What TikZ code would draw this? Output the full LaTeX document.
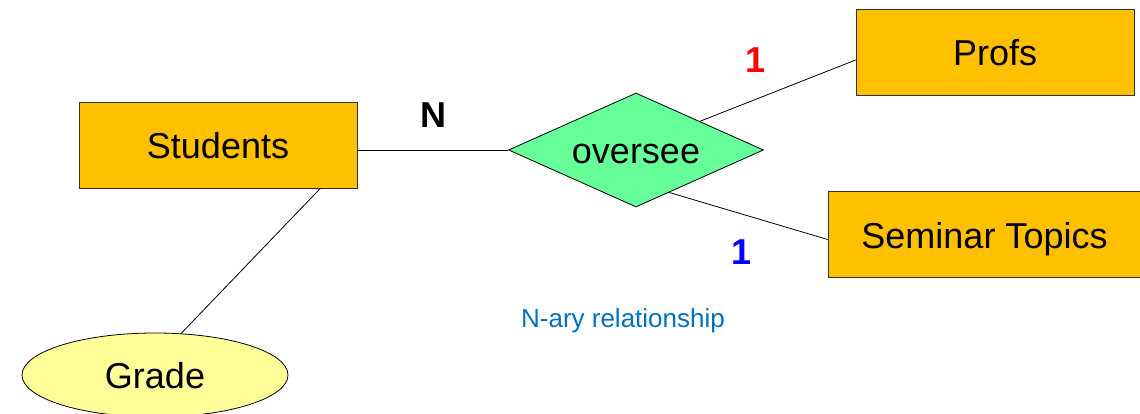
\documentclass[tikz,border=0pt]{standalone}
\usepackage{fontspec}
\setmainfont{Liberation Sans}
\usetikzlibrary{shapes.geometric,calc}
\definecolor{entfill}{HTML}{FFC000}
\definecolor{relfill}{HTML}{66FF99}
\definecolor{attfill}{HTML}{FFFF99}
\definecolor{notecol}{HTML}{0070C0}
\tikzset{
  label text/.style={font=\fontsize{36}{40}\selectfont, text height=34pt, text depth=7pt},
  entity/.style={label text, draw=black!80, line width=0.8pt, fill=entfill, minimum height=86pt, inner sep=0pt},
  relation/.style={label text, draw=black, line width=0.8pt, fill=relfill, diamond, aspect=2.24, inner sep=0pt,
                   minimum width=255pt, minimum height=114pt},
  attribute/.style={label text, draw=black, line width=0.8pt, fill=attfill, ellipse, inner sep=0pt,
                    minimum width=266pt, minimum height=84pt},
  link/.style={draw=black, line width=0.8pt},
  card/.style={font=\fontsize{36}{40}\selectfont\bfseries, inner sep=0pt},
  note/.style={font=\fontsize{26}{30}\selectfont, text=notecol, inner sep=0pt}
}
\begin{document}
\begin{tikzpicture}[x=1pt,y=-1pt]
  \useasboundingbox (0,0) rectangle (1140,414);

  % entities
  \node[entity, minimum width=278pt] (students) at (218,145) {Students};
  \node[entity, minimum width=278pt] (profs) at (995,52) {Profs};
  \node[entity, minimum width=313pt] (topics) at (984.5,234.5) {Seminar Topics};

  % relationship and attribute
  \node[relation] (oversee) at (636,150) {oversee};
  \node[attribute] (grade) at (155,375) {Grade};

  % connectors
  \draw[link] ([yshift=-5pt]students.east) -- (oversee.west);
  \draw[link] (oversee.north east) -- ([yshift=-8pt]profs.west);
  \draw[link] ($(oversee.south)!0.26!(oversee.east)$) -- ([yshift=-5pt]topics.west);
  \draw[link] ($(students.south west)!0.867!(students.south east)$) -- ([xshift=26pt,yshift=-1pt]grade.north);

  % cardinalities
  \node[card] (cN) at (433,115) {N};
  \node[card, text=red] (cP) at (756,60) {1};
  \node[card, text=blue] (cT) at (742,252) {1};

  % caption
  \node[note] (cap) at (623,321) {N-ary relationship};
\end{tikzpicture}
\end{document}
